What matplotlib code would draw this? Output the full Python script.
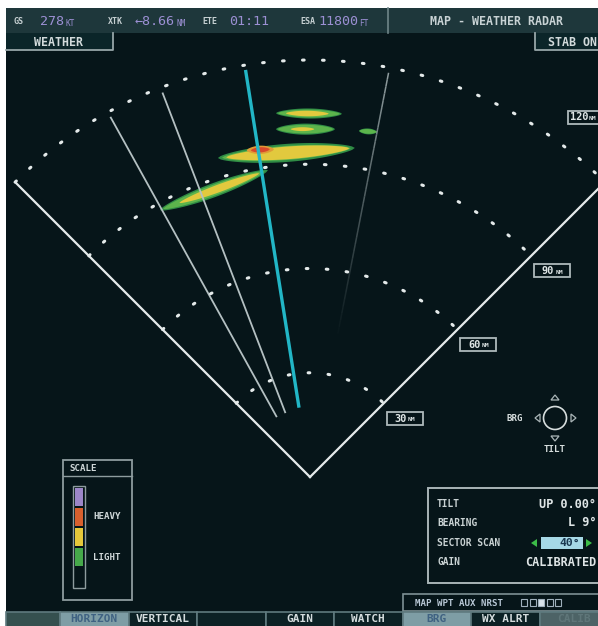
import numpy as np
import matplotlib.pyplot as plt
from matplotlib.patches import Rectangle, Circle, Polygon
from matplotlib.collections import LineCollection

plt.rcParams['lines.scale_dashes'] = False
plt.rcParams['font.family'] = ['DejaVu Sans Mono']
plt.rcParams['font.weight'] = 'bold'

# --- datos del radar (nm / grados) ---
rangos = [30, 60, 90, 120]
semi_sector = 45

# radiales de barrido
barrido_rumbo = [-29, -21, -9, 11]
barrido_r0 = [19.7, 19.7, 20.2, 40.0]
barrido_r1 = [118.5, 118.5, 118.6, 118.5]

# celdas de precipitacion: extremo inicial, extremo final, semiancho (nm)
celda_x0 = [-9.8, -9.8, 14.1, -26.5, -43.2]
celda_y0 = [104.7, 100.1, 99.6, 91.8, 76.8]
celda_x1 = [9.2, 7.2, 19.3, 12.9, -12.1]
celda_y1 = [104.5, 100.1, 99.3, 94.7, 88.3]
celda_w = [1.45, 1.6, 0.85, 2.6, 2.0]
# nucleo amarillo (fraccion de la celda y del ancho)
nucleo_s0 = [0.15, 0.25, 0.0, 0.06, 0.18]
nucleo_s1 = [0.80, 0.65, 0.0, 0.96, 0.92]
nucleo_f = [0.55, 0.35, 0.0, 0.70, 0.55]
# zona intensa (roja)
rojo_x = [-17.0, -11.6]
rojo_y = [94.0, 94.3]
rojo_w = 0.75

# paneles de texto
barra_etiquetas = ['GS', 'XTK', 'ETE', 'ESA']
barra_valores = ['278', '\u21908.66', '01:11', '11800']
barra_unidades = ['KT', 'NM', '', 'FT']
info_nombres = ['TILT', 'BEARING', 'SECTOR SCAN', 'GAIN']
info_valores = ['UP 0.00\u00b0', 'L 9\u00b0', '40\u00b0', 'CALIBRATED']
escala_colores = ['#9c86c8', '#d8602e', '#e6c83a', '#46a84a', '#061519']
teclas = ['', 'HORIZON', 'VERTICAL', '', 'GAIN', 'WATCH', 'BRG', 'WX ALRT', 'CALIB']
teclas_activas = [1, 6]

fondo = '#061519'
blanco = '#e4eaea'
violeta = '#9c90d4'

W, H = 598, 626
fig = plt.figure(figsize=(W / 100, H / 100), dpi=100, facecolor='white')

# --- eje del radar, en millas nauticas (apice en 0,0) ---
K = 417 / 120.0
ax = fig.add_axes([6 / W, 0, (W - 6) / W, (H - 8) / H])
ax.set_xlim((6 - 310) / K, (W - 310) / K)
ax.set_ylim((477 - H) / K, (477 - 8) / K)
ax.set_facecolor(fondo)
ax.set_xticks([])
ax.set_yticks([])
for sp in ax.spines.values():
    sp.set_visible(False)

# --- eje de la superposicion, en pixeles ---
axp = fig.add_axes([0, 0, 1, 1])
axp.set_xlim(0, W)
axp.set_ylim(H, 0)
axp.axis('off')


def lente(x0, y0, x1, y1, w, s0=0.0, s1=1.0, n=50):
    p0 = np.array([x0, y0])
    d = np.array([x1 - x0, y1 - y0])
    L = np.hypot(*d)
    d = d / L
    nrm = np.array([-d[1], d[0]])
    s = np.linspace(s0, s1, n)
    t = (s - s0) / (s1 - s0)
    h = w * np.sin(np.pi * t) ** 0.6
    c = p0[None, :] + (s * L)[:, None] * d[None, :]
    arriba = c + h[:, None] * nrm[None, :]
    abajo = c - h[:, None] * nrm[None, :]
    return np.vstack([arriba, abajo[::-1]])


# celdas
for i in range(len(celda_x0)):
    ax.add_patch(Polygon(lente(celda_x0[i], celda_y0[i], celda_x1[i], celda_y1[i], celda_w[i]),
                         fc='#2f8c45', ec='none', zorder=2))
    ax.add_patch(Polygon(lente(celda_x0[i], celda_y0[i], celda_x1[i], celda_y1[i], celda_w[i] * 0.78,
                               0.03, 0.97), fc='#5cb44c', ec='none', zorder=2))
    if nucleo_f[i] > 0:
        ax.add_patch(Polygon(lente(celda_x0[i], celda_y0[i], celda_x1[i], celda_y1[i],
                                   celda_w[i] * nucleo_f[i], nucleo_s0[i], nucleo_s1[i]),
                             fc='#e2c93e', ec='none', zorder=2))
ax.add_patch(Polygon(lente(rojo_x[0] - 1.2, rojo_y[0], rojo_x[1] + 1.2, rojo_y[1], rojo_w * 1.6),
                     fc='#e09a36', ec='none', zorder=2))
ax.add_patch(Polygon(lente(rojo_x[0], rojo_y[0], rojo_x[1], rojo_y[1], rojo_w),
                     fc='#d8482c', ec='none', zorder=2))

# radiales de barrido
colores_barrido = ['#b4c0c2', '#b4c0c2', '#22b6c6']
anchos_barrido = [1.3, 1.3, 2.4]
for i in range(3):
    a = np.radians(barrido_rumbo[i])
    r = np.array([barrido_r0[i], barrido_r1[i]])
    ax.plot(r * np.sin(a), r * np.cos(a), color=colores_barrido[i], lw=anchos_barrido[i],
            solid_capstyle='butt', zorder=3)
# el ultimo radial se desvanece hacia el apice
a = np.radians(barrido_rumbo[3])
r = np.linspace(barrido_r0[3], barrido_r1[3], 40)
pts = np.column_stack([r * np.sin(a), r * np.cos(a)])
segs = np.stack([pts[:-1], pts[1:]], axis=1)
cols = np.zeros((len(segs), 4))
cols[:, :3] = [0.62, 0.67, 0.68]
cols[:, 3] = np.linspace(0.0, 0.9, len(segs))
ax.add_collection(LineCollection(segs, colors=cols, linewidths=1.1, zorder=3))

# arcos punteados
th = np.radians(np.linspace(-semi_sector, semi_sector, 400))
for r in rangos:
    ax.plot(r * np.sin(th), r * np.cos(th), color=blanco, lw=2.2, dashes=(1.2, 13.2),
            dash_capstyle='round', zorder=4)

# bordes del sector
rmax = rangos[-1]
for s in (-1, 1):
    a = np.radians(s * semi_sector)
    ax.plot([0, rmax * np.sin(a)], [0, rmax * np.cos(a)], color=blanco, lw=1.6, zorder=4)

# etiquetas de rango (sobre el borde derecho)
a = np.radians(semi_sector)
to_px = ax.transData + axp.transData.inverted()


def caja_rango(cx, cy, r):
    axp.add_patch(Rectangle((cx - 18, cy - 6.5), 36, 13, fc=fondo, ec='#aeb9bb', lw=1.3, zorder=5))
    axp.text(cx + 2, cy + 0.5, str(r), ha='right', va='center', size=7.4, color='#dfe6e6', zorder=6)
    axp.text(cx + 3, cy + 1.2, 'NM', ha='left', va='center', size=4.6, color='#dfe6e6', zorder=6)


for r in rangos[:3]:
    px, py = to_px.transform((r * np.sin(a), r * np.cos(a)))
    caja_rango(px + 21, py + 15, r)
caja_rango(586, 117, rangos[3])

# --- barra superior ---
axp.add_patch(Rectangle((6, 8), W - 6, 25, fc='#1e373b', ec='none', zorder=5))
axp.plot([388, 388], [8, 33], color='#6f8689', lw=1.2, zorder=6)
x_etq = [13, 108, 202, 300]
x_val = [40, 135, 229, 318]
for i in range(4):
    axp.text(x_etq[i], 22, barra_etiquetas[i], ha='left', va='center', size=6, color='#c6d0d2', zorder=7)
    axp.text(x_val[i], 21.5, barra_valores[i], ha='left', va='center', size=9.6, color=violeta,
             weight='normal', zorder=7)
    if barra_unidades[i]:
        ancho = len(barra_valores[i]) * 0.602 * 9.6 * 100 / 72
        axp.text(x_val[i] + ancho + 1, 23, barra_unidades[i], ha='left', va='center', size=5.6,
                 color=violeta, weight='normal', zorder=7)
axp.text(497, 21.5, 'MAP - WEATHER RADAR', ha='center', va='center', size=8.4, color='#c8d2d4', zorder=7)

# segunda fila
axp.add_patch(Rectangle((6, 33), 107, 16.5, fc='#0b2529', ec='none', zorder=5))
axp.plot([6, 113, 113], [49.5, 49.5, 33], color='#97a6a8', lw=1.3, zorder=6)
axp.text(59, 42, 'WEATHER', ha='center', va='center', size=8.4, color='#d2dadb', zorder=7)
axp.add_patch(Rectangle((535, 33), W - 535, 16.5, fc='#0b2529', ec='none', zorder=5))
axp.plot([535, 535, W], [33, 49.5, 49.5], color='#97a6a8', lw=1.3, zorder=6)
axp.text(572, 42, 'STAB ON', ha='center', va='center', size=8.4, color='#d2dadb', zorder=7)

# --- panel de escala ---
axp.add_patch(Rectangle((63, 460), 69, 140, fc='none', ec='#8e9c9e', lw=1.3, zorder=5))
axp.plot([63, 132], [476, 476], color='#8e9c9e', lw=1.0, zorder=5)
axp.text(69, 468.5, 'SCALE', ha='left', va='center', size=6.6, color='#cfd7d8', zorder=6)
axp.add_patch(Rectangle((73, 486), 12, 102, fc='none', ec='#8e9c9e', lw=1.0, zorder=5))
for i, c in enumerate(escala_colores):
    axp.add_patch(Rectangle((75, 488 + 20 * i), 8, 18, fc=c, ec='none', zorder=6))
axp.text(93, 516.5, 'HEAVY', ha='left', va='center', size=6.6, color='#cfd7d8', zorder=6)
axp.text(93, 557, 'LIGHT', ha='left', va='center', size=6.6, color='#cfd7d8', zorder=6)

# --- control BRG / TILT ---
axp.add_patch(Circle((555, 418), 11.5, fc='none', ec='#d6dddd', lw=1.2, zorder=6))
for tri in ([[535, 418], [540, 414], [540, 422]], [[576, 418], [571, 414], [571, 422]],
            [[555, 395], [551, 400], [559, 400]], [[555, 441], [551, 436], [559, 436]]):
    axp.add_patch(Polygon(tri, closed=True, fc='none', ec='#aab5b7', lw=0.9, zorder=6))
axp.text(523, 418.5, 'BRG', ha='right', va='center', size=6.6, color='#d6dddd', zorder=6)
axp.text(555, 450, 'TILT', ha='center', va='center', size=6.6, color='#d6dddd', zorder=6)

# --- panel de informacion ---
axp.add_patch(Rectangle((428, 488), 180, 95, fc=fondo, ec='#a9b5b7', lw=1.4, zorder=5))
y_info = [504, 523, 543, 562]
for i in range(4):
    axp.text(437, y_info[i], info_nombres[i], ha='left', va='center', size=6.9, color='#c9d2d3', zorder=6)
    if i == 2:
        axp.add_patch(Rectangle((541, y_info[i] - 6), 42, 12, fc='#a6d8e6', ec='none', zorder=6))
        axp.text(580, y_info[i], info_valores[i], ha='right', va='center', size=8.2, color='#1a3850',
                 zorder=7)
        axp.add_patch(Polygon([[531, y_info[i]], [537, y_info[i] - 4], [537, y_info[i] + 4]],
                              fc='#3cbc48', ec='none', zorder=7))
        axp.add_patch(Polygon([[592, y_info[i]], [586, y_info[i] - 4], [586, y_info[i] + 4]],
                              fc='#3cbc48', ec='none', zorder=7))
    else:
        axp.text(596, y_info[i], info_valores[i], ha='right', va='center', size=8.6, color='#dfe5e6',
                 zorder=6)

# --- recuadro de paginas ---
axp.add_patch(Rectangle((403, 594), 200, 17, fc=fondo, ec='#7e9094', lw=1.2, zorder=5))
axp.text(415, 603, 'MAP WPT AUX NRST', ha='left', va='center', size=6.6, color='#b9c8d6', zorder=6)
for j in range(5):
    axp.add_patch(Rectangle((521 + 8.5 * j, 599), 6, 7,
                            fc='#d8e2ea' if j == 2 else 'none', ec='#9fb0bc', lw=0.8, zorder=6))

# --- teclas inferiores ---
bordes = [6] + [60 + 68.5 * i for i in range(9)]
for i, nombre in enumerate(teclas):
    x0, x1 = bordes[i], min(bordes[i + 1], W + 10)
    if i in teclas_activas:
        fc, tc = '#7e9da5', '#3f6282'
    elif i == 0:
        fc, tc = '#35504f', '#b0bcbe'
    elif i == len(teclas) - 1:
        fc, tc = '#4d6366', '#5f7679'
    else:
        fc, tc = '#0c2125', '#d4dcdd'
    axp.add_patch(Rectangle((x0, 612), x1 - x0, 20, fc=fc, ec='#5f7a7f', lw=1.2, zorder=5))
    if nombre:
        axp.text((x0 + x1) / 2, 619.5, nombre, ha='center', va='center', size=8.0, color=tc, zorder=6)

fig.savefig('out.png', dpi=100, facecolor=fig.get_facecolor())
